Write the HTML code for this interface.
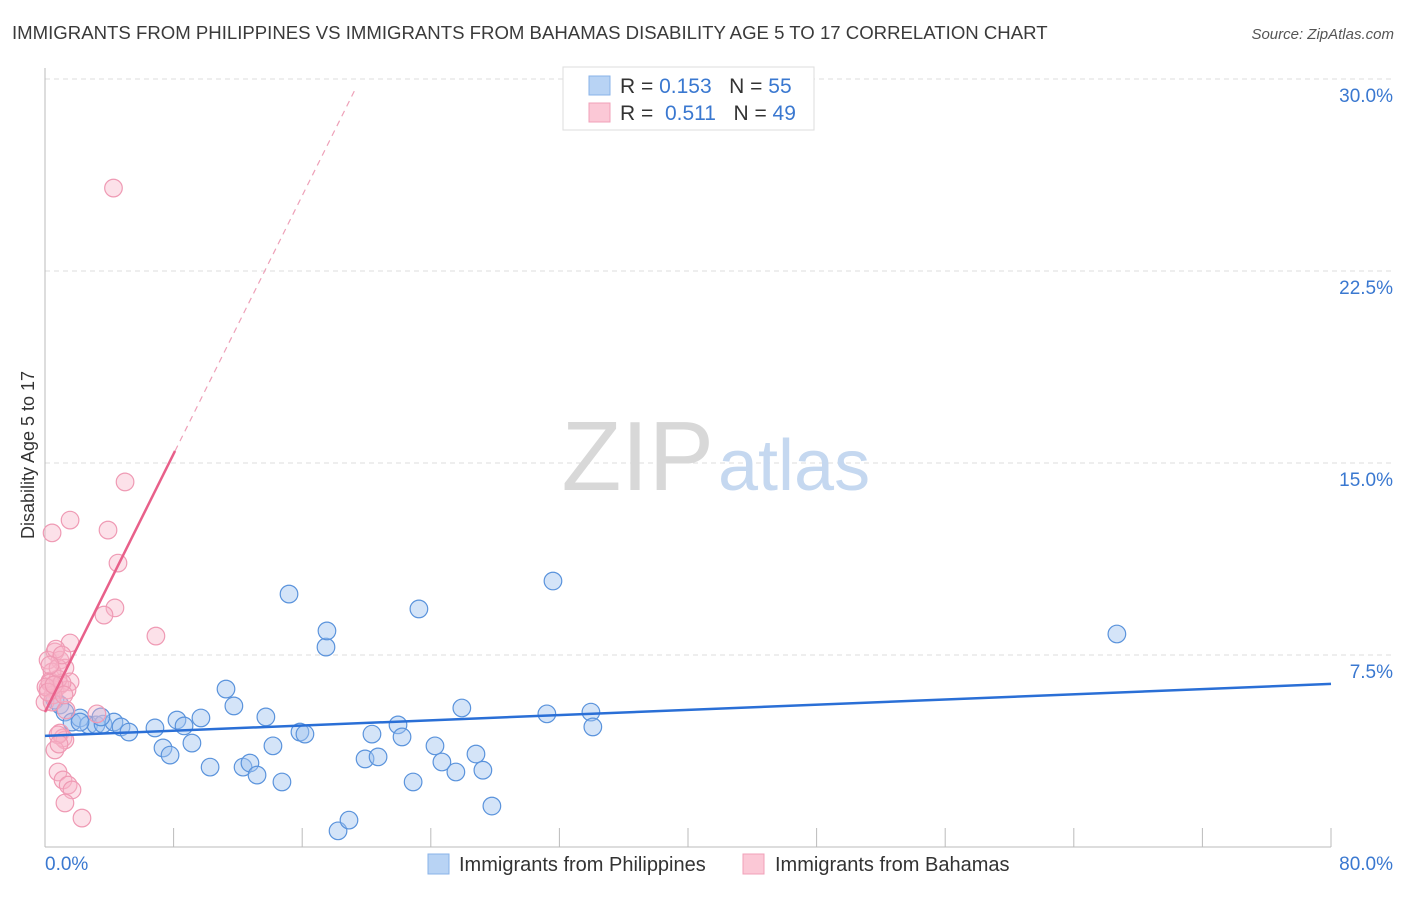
<!DOCTYPE html>
<html><head><meta charset="utf-8"><style>
body{margin:0;background:#fff;font-family:"Liberation Sans",sans-serif;}
svg text{font-family:"Liberation Sans",sans-serif;}
</style></head><body>
<svg width="1406" height="892" id="chart">
<text x="12" y="39" font-size="18.6" fill="#3a3a3a">IMMIGRANTS FROM PHILIPPINES VS IMMIGRANTS FROM BAHAMAS DISABILITY AGE 5 TO 17 CORRELATION CHART</text>
<text x="1394" y="39" font-size="15" fill="#555" text-anchor="end" font-style="italic">Source: ZipAtlas.com</text>
<g id="grid"></g>
<text x="714" y="490" font-size="98" fill="#d8d8d8" text-anchor="end" font-family="Liberation Serif">ZIP</text>
<text x="718" y="490" font-size="72" fill="#c5d8f0">atlas</text>
<text transform="translate(34,455) rotate(-90)" font-size="18" fill="#333" text-anchor="middle">Disability Age 5 to 17</text>
<g id="marks"></g>
<g>
<rect x="563" y="67" width="251" height="63" fill="#fff" stroke="#ddd"/>
<rect x="589" y="76" width="21" height="19" fill="#b8d3f4" stroke="#89b3e8"/>
<rect x="589" y="103" width="21" height="19" fill="#fbc8d6" stroke="#f0a0b8"/>
<text x="620" y="93" font-size="21" fill="#333" xml:space="preserve">R = <tspan fill="#3a78d0">0.153</tspan>   N = <tspan fill="#3a78d0">55</tspan></text>
<text x="620" y="120" font-size="21" fill="#333" xml:space="preserve">R =  <tspan fill="#3a78d0">0.511</tspan>   N = <tspan fill="#3a78d0">49</tspan></text>
</g>
<g>
<rect x="428" y="854" width="21" height="20" fill="#b8d3f4" stroke="#89b3e8"/>
<text x="459" y="871" font-size="20" fill="#333">Immigrants from Philippines</text>
<rect x="743" y="854" width="21" height="20" fill="#fbc8d6" stroke="#f0a0b8"/>
<text x="775" y="871" font-size="20" fill="#333">Immigrants from Bahamas</text>
</g>
</svg>
<script>
const yTicks=[7.5,15,22.5,30];
const yTickLabels=["7.5%","15.0%","22.5%","30.0%"];
const xTicks=[0,8,16,24,32,40,48,56,64,72,80];
const blueX=[0.62,0.93,1.24,1.68,2.18,2.71,3.17,3.61,4.29,4.73,5.22,3.48,6.84,7.34,7.78,8.21,8.65,9.14,9.7,10.27,11.26,11.75,12.32,12.75,13.19,13.74,14.18,14.74,15.18,15.86,16.17,17.48,17.54,18.23,18.91,19.91,20.34,20.72,21.96,22.21,22.9,23.26,24.26,24.69,25.56,25.93,26.81,27.24,27.8,31.22,31.6,33.96,34.08,66.68,2.18];
const blueY=[5.74,5.55,5.27,4.88,5.04,4.77,4.77,4.8,4.88,4.69,4.49,5.08,4.65,3.87,3.59,4.96,4.73,4.06,5.04,3.12,6.17,5.51,3.12,3.28,2.81,5.08,3.95,2.54,9.88,4.49,4.41,7.81,8.44,0.63,1.05,3.44,4.41,3.52,4.77,4.3,2.54,9.3,3.95,3.32,2.93,5.43,3.63,3.0,1.6,5.2,10.39,5.27,4.69,8.32,4.88];
const pinkX=[4.26,0.44,1.56,3.92,4.98,4.54,4.35,3.67,6.9,1.56,0.62,0.93,0.19,1.24,0.44,1.56,0.93,0.19,0.62,1.37,0.31,0.81,0,0.5,3.23,0.93,1.12,1.24,0.81,0.62,0.81,1.12,1.44,1.68,1.24,2.3,0.31,0.06,1.06,0.68,0.44,1.31,0.19,0.81,1.06,0.31,0.56,1.18,0.87];
const pinkY=[25.74,12.27,12.77,12.38,14.26,11.09,9.34,9.06,8.24,7.97,7.62,7.3,7.3,6.99,6.84,6.45,6.33,6.21,6.13,6.13,6.48,6.56,5.66,5.94,5.2,4.45,4.26,4.18,4.38,3.79,2.93,2.62,2.42,2.23,1.72,1.13,6.41,6.25,6.41,7.73,5.66,5.35,6.05,6.99,7.5,7.11,6.33,5.94,4.02];
const blueTrend=[4.34,6.37];
const pinkTrend=[5.27,1.2607];
const X=v=>45+v/80*1286, Y=v=>847-v*25.6;
const ns="http://www.w3.org/2000/svg";
function mk(tag,attrs,parent){const e=document.createElementNS(ns,tag);for(const k in attrs)e.setAttribute(k,attrs[k]);parent.appendChild(e);return e;}
const grid=document.getElementById('grid'), marks=document.getElementById('marks');
yTicks.forEach((t,i)=>{
 const l=mk('line',{x1:45,x2:1394,y1:Y(t),y2:Y(t),stroke:'#ddd','stroke-dasharray':'5,4'},grid);
 
 
 const tx=mk('text',{x:1393,y:Y(t)+23,'font-size':19,fill:'#3a78d0','text-anchor':'end'},grid);
 tx.textContent=yTickLabels[i];
 
 
});
mk('line',{x1:45,x2:45,y1:68,y2:847,stroke:'#bbb'},grid);
mk('line',{x1:45,x2:1331,y1:847,y2:847,stroke:'#bbb'},grid);
xTicks.forEach(t=>{const l=mk('line',{x1:X(t),x2:X(t),y1:828,y2:847,stroke:'#bbb'},grid);
 
 });
const x0=mk('text',{x:45,y:870,'font-size':19,fill:'#3a78d0'},grid);x0.textContent='0.0%';


const x1=mk('text',{x:1393,y:870,'font-size':19,fill:'#3a78d0','text-anchor':'end'},grid);x1.textContent='80.0%';


blueX.forEach((v,i)=>{const c=mk('circle',{cx:X(v),cy:Y(blueY[i]),r:8.8,fill:'rgba(160,196,240,0.45)',stroke:'#5a93dc','stroke-width':1.2},marks);
 
 });
pinkX.forEach((v,i)=>{const c=mk('circle',{cx:X(v),cy:Y(pinkY[i]),r:8.8,fill:'rgba(248,180,200,0.4)',stroke:'#ef9ab4','stroke-width':1.2},marks);
 
 });
const bl=mk('line',{x1:X(0),y1:Y(blueTrend[0]),x2:X(80),y2:Y(blueTrend[1]),stroke:'#2a6fd6','stroke-width':2.5},marks);


const pe=8.09, pd=19.3;
const ps=mk('line',{x1:X(0),y1:Y(pinkTrend[0]),x2:X(pe),y2:Y(pinkTrend[0]+pinkTrend[1]*pe),stroke:'#e8608a','stroke-width':2.5},marks);


const pdl=mk('line',{x1:X(pe),y1:Y(pinkTrend[0]+pinkTrend[1]*pe),x2:X(pd),y2:Y(pinkTrend[0]+pinkTrend[1]*pd),stroke:'#eea0b8','stroke-width':1.2,'stroke-dasharray':'6,5'},marks);


</script>
</body></html>
